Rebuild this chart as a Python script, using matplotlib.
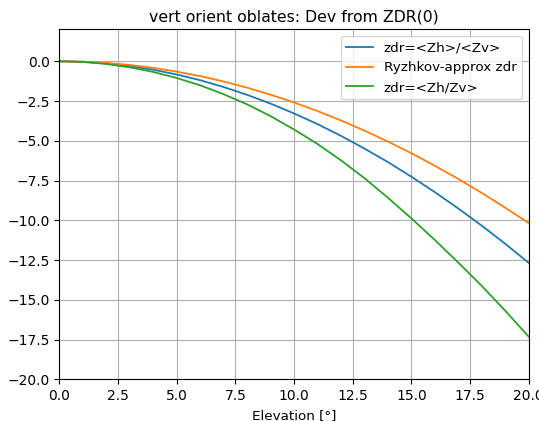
import numpy as np
import matplotlib
matplotlib.use("Agg")
import matplotlib.pyplot as plt

# elevation angles (deg)
elev = [0, 1, 2, 3, 4, 5, 6, 7, 8, 9, 10, 11, 12, 13, 14, 15, 16, 17, 18, 19, 20]

# deviation from ZDR(0), dB
zdr_mean_ratio = [0, -0.03, -0.13, -0.30, -0.53, -0.83, -1.19, -1.62, -2.11, -2.66, -3.28,
                  -3.95, -4.69, -5.49, -6.34, -7.26, -8.23, -9.26, -10.34, -11.48, -12.68]
zdr_ryzhkov = [0, -0.03, -0.10, -0.23, -0.41, -0.65, -0.93, -1.27, -1.66, -2.10, -2.59,
               -3.13, -3.72, -4.36, -5.05, -5.78, -6.57, -7.40, -8.28, -9.21, -10.18]
zdr_ratio_mean = [0, -0.04, -0.17, -0.38, -0.67, -1.05, -1.51, -2.07, -2.71, -3.45, -4.29,
                  -5.20, -6.23, -7.35, -8.58, -9.88, -11.24, -12.66, -14.13, -15.69, -17.32]

plt.rcParams['font.size'] = 9.7

fig = plt.figure(figsize=(5.39, 4.21), dpi=100)
ax = fig.add_axes([0.110, 0.099, 0.871, 0.831])

ax.plot(elev, zdr_mean_ratio, lw=1.3, label="zdr=<Zh>/<Zv>")
ax.plot(elev, zdr_ryzhkov, lw=1.3, label="Ryzhkov-approx zdr")
ax.plot(elev, zdr_ratio_mean, lw=1.3, label="zdr=<Zh/Zv>")

ax.set_xlim(0, 20)
ax.set_ylim(-20, 2)
ax.tick_params(labelsize=10)
ax.set_xlabel("Elevation [°]")
ax.set_title("vert orient oblates: Dev from ZDR(0)", fontsize=11.3)
ax.grid(True)
ax.legend(loc="upper right")

fig.savefig("out.png", dpi=100)
